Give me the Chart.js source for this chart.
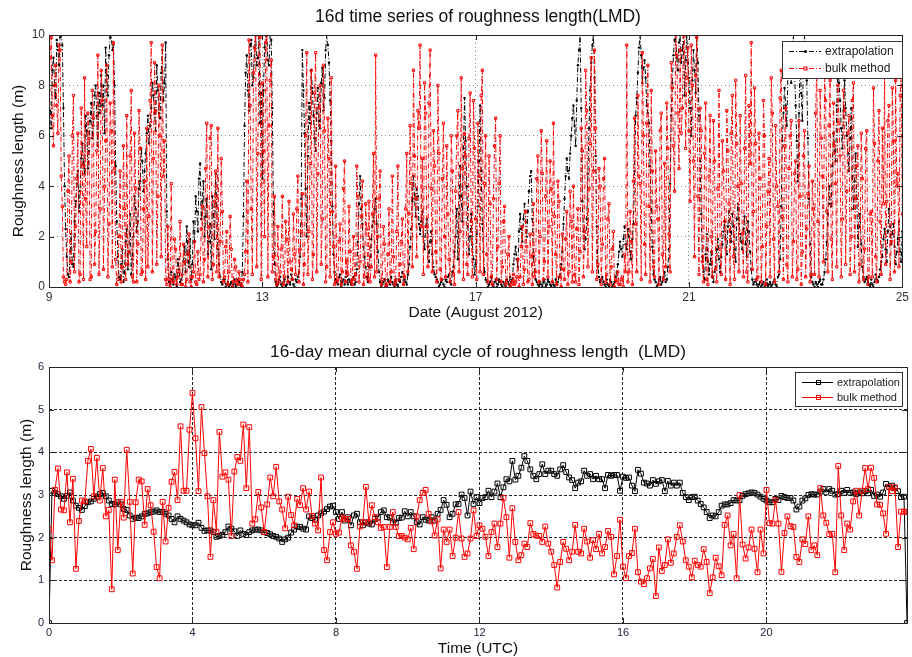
<!DOCTYPE html>
<html>
<head>
<meta charset="utf-8">
<script src="https://cdn.jsdelivr.net/npm/chart.js@4.4.0/dist/chart.umd.min.js"></script>
<style>
  body { margin: 0; background: #fff; }
  #wrap { position: relative; width: 912px; height: 657px; }
  canvas { position: absolute; left: 0; }
  #topCanvas { top: 0; }
  #bottomCanvas { top: 330px; }
</style>
</head>
<body>
<div id="wrap">
  <canvas id="topCanvas" width="912" height="330"></canvas>
  <canvas id="bottomCanvas" width="912" height="327"></canvas>
</div>
<script>
// top panel: values on the hour and at half past, 9 Aug 00 UTC to 25 Aug 00 UTC
let startDay = 9;
let dayTicks = [9, 13, 17, 21, 25];
let extrapHourly = [
  8.2, 6.3, 9.1, 7.5, 9.4, 9.9, 9.6, 4.0, 1.2, 0.4, 2.1, 0.8, 3.4, 4.6, 3.8, 5.7, 4.5, 6.2, 5.4, 7.3, 6.4, 8.0, 5.6, 6.9,
  7.2, 6.1, 8.4, 9.2, 10, 9.6, 4.8, 1.2, 0.3, 1.5, 0.6, 2.3, 1.4, 0.5, 2.0, 3.1, 2.6, 4.2, 5.0, 4.6, 6.1, 5.7, 7.1, 7.6,
  6.2, 7.8, 6.7, 9.4, 8.1, 3.0, 0.2, 0.6, 0.1, 0.4, 1.1, 0.2, 0.5, 1.6, 2.4, 0.8, 0.3, 2.6, 3.6, 2.2, 4.9, 3.4, 2.0, 3.5,
  1.8, 0.7, 2.9, 4.5, 1.5, 0.4, 0.1, 0.3, 0.1, 0.0, 0.2, 0.1, 0.0, 0.3, 0.1, 0.6, 6.4, 9.2, 7.0, 9.8, 8.3, 10, 9.1, 6.5,
  4.3, 9.5, 10, 8.8, 9.8, 3.0, 0.2, 0.1, 0.4, 0.0, 0.3, 0.1, 0.2, 0.5, 0.1, 0.3, 0.4, 1.2, 9.4, 6.1, 2.0, 7.3, 8.6, 6.8,
  5.4, 7.9, 6.3, 8.7, 7.5, 10, 8.9, 5.8, 1.3, 0.3, 0.1, 0.5, 0.2, 0.1, 0.6, 0.3, 0.1, 0.4, 0.2, 1.8, 4.4, 2.5, 1.2, 0.4,
  0.8, 1.9, 2.6, 3.5, 1.4, 0.2, 0.1, 0.3, 0.0, 0.2, 0.4, 0.1, 0.3, 0.0, 0.2, 0.6, 0.3, 0.1, 0.9, 2.3, 4.4, 2.8, 3.6, 2.1,
  3.0, 1.5, 2.7, 1.0, 2.2, 0.8, 0.4, 0.2, 0.1, 0.3, 0.0, 0.2, 0.5, 0.1, 0.8, 2.0, 1.1, 4.8, 2.6, 7.5, 4.0, 1.3, 2.9, 1.1,
  0.9, 3.2, 7.2, 2.5, 0.6, 0.2, 0.1, 0.4, 0.0, 0.3, 0.1, 0.2, 0.0, 0.1, 0.3, 0.1, 0.2, 0.9, 1.6, 0.8, 2.9, 1.8, 3.3, 2.0,
  3.8, 4.6, 1.2, 0.3, 0.1, 0.2, 0.0, 0.3, 0.1, 0.2, 0.0, 0.1, 0.3, 0.2, 0.5, 1.4, 3.5, 5.1, 4.3, 6.0, 7.2, 5.6, 8.8, 10,
  3.4, 1.5, 2.7, 6.3, 8.9, 10, 5.2, 0.8, 0.2, 0.4, 0.1, 0.3, 0.0, 0.2, 0.1, 0.4, 0.9, 1.8, 1.2, 2.4, 1.5, 2.0, 1.1, 2.5,
  6.8, 8.5, 10, 8.1, 9.0, 7.2, 6.5, 3.1, 0.5, 0.2, 0.1, 0.4, 0.2, 0.6, 0.3, 1.5, 6.8, 9.2, 10, 8.6, 10, 9.4, 7.6, 10,
  8.3, 6.0, 9.4, 7.7, 8.9, 5.0, 1.2, 0.3, 2.1, 0.5, 1.4, 0.2, 0.8, 1.9, 0.6, 1.7, 2.6, 1.3, 3.0, 1.8, 2.4, 1.0, 3.3, 2.1,
  1.5, 2.8, 1.2, 2.2, 0.7, 0.1, 0.3, 0.0, 0.2, 0.1, 0.0, 0.3, 0.1, 0.0, 0.2, 0.1, 0.4, 1.1, 5.8, 7.9, 6.4, 9.3, 8.1, 10,
  7.2, 4.2, 9.0, 6.6, 10, 8.2, 3.5, 0.4, 0.1, 0.2, 0.0, 0.3, 0.1, 0.6, 1.8, 4.0, 3.2, 6.1, 5.0, 9.0, 7.4, 5.5, 8.2, 6.0,
  4.6, 7.1, 3.1, 5.3, 1.6, 2.9, 0.8, 0.2, 0.4, 0.1, 0.3, 0.0, 0.5, 0.2, 0.7, 1.2, 2.3, 1.0, 3.1, 1.7, 2.5, 0.9, 1.9, 1.4,
  2.2
];
let extrapHalfPast = [
  7.0, 8.6, 8.0, 9.8, 8.8, 10, 7.1, 2.3, 0.5, 1.4, 0.9, 2.6, 4.1, 3.0, 5.1, 4.9, 6.8, 4.7, 6.6, 5.9, 7.6, 6.8, 7.7, 8.4,
  8.0, 9.5, 7.6, 9.9, 9.4, 8.0, 2.6, 0.4, 0.9, 0.2, 1.8, 0.7, 2.9, 1.1, 3.6, 2.2, 3.9, 5.5, 3.8, 5.3, 6.8, 6.4, 8.1, 6.9,
  8.8, 6.9, 8.5, 7.4, 9.7, 1.1, 0.1, 0.3, 0.5, 0.0, 0.7, 0.3, 1.0, 0.6, 1.3, 1.9, 0.9, 1.8, 3.0, 4.3, 2.7, 4.2, 2.8, 1.3,
  2.5, 3.6, 1.9, 3.2, 0.9, 0.2, 0.3, 0.0, 0.2, 0.1, 0.0, 0.3, 0.1, 0.2, 0.0, 2.8, 8.5, 7.8, 9.6, 8.0, 9.5, 8.8, 10, 7.7,
  7.8, 10, 9.0, 10, 7.1, 0.9, 0.0, 0.3, 0.1, 0.2, 0.0, 0.4, 0.1, 0.3, 0.0, 0.2, 0.6, 3.5, 7.8, 3.9, 5.2, 6.5, 7.9, 5.9,
  6.9, 6.6, 8.1, 7.0, 9.4, 9.6, 7.4, 3.2, 0.6, 0.2, 0.4, 0.0, 0.3, 0.4, 0.1, 0.2, 0.3, 0.1, 0.7, 3.3, 3.1, 1.6, 0.8, 0.2,
  1.2, 2.4, 3.1, 2.5, 0.6, 0.0, 0.2, 0.1, 0.3, 0.1, 0.2, 0.0, 0.1, 0.3, 0.4, 0.1, 0.2, 0.5, 1.6, 3.4, 3.5, 3.9, 2.5, 2.6,
  2.0, 2.4, 1.6, 1.8, 1.3, 0.5, 0.3, 0.0, 0.2, 0.1, 0.3, 0.4, 0.2, 0.6, 1.4, 3.1, 2.9, 3.6, 5.5, 5.8, 2.4, 2.0, 1.7, 0.5,
  2.1, 5.0, 4.6, 1.4, 0.3, 0.0, 0.2, 0.1, 0.2, 0.0, 0.3, 0.1, 0.2, 0.0, 0.2, 0.4, 0.3, 1.3, 1.1, 2.2, 2.3, 2.7, 2.6, 3.0,
  4.4, 2.7, 0.6, 0.2, 0.0, 0.1, 0.2, 0.0, 0.3, 0.1, 0.2, 0.0, 0.1, 0.4, 0.9, 2.5, 4.4, 4.6, 5.3, 6.7, 6.4, 7.4, 9.4, 7.1,
  2.2, 1.9, 4.5, 7.8, 9.6, 8.3, 2.4, 0.4, 0.3, 0.2, 0.0, 0.1, 0.3, 0.0, 0.2, 0.6, 1.4, 1.5, 1.9, 1.7, 2.3, 1.4, 1.9, 4.6,
  7.5, 9.5, 9.2, 8.7, 8.3, 6.9, 4.8, 1.6, 0.3, 0.0, 0.3, 0.1, 0.4, 0.2, 0.8, 4.1, 8.1, 9.8, 9.1, 9.7, 8.9, 10, 9.0, 8.9,
  7.1, 8.2, 8.6, 9.9, 6.8, 2.9, 0.6, 1.3, 1.0, 0.9, 0.4, 0.6, 1.5, 1.1, 1.2, 2.2, 1.9, 2.4, 2.2, 2.9, 1.5, 2.7, 2.5, 1.8,
  2.3, 1.7, 2.6, 1.4, 0.3, 0.2, 0.1, 0.1, 0.0, 0.2, 0.1, 0.0, 0.2, 0.1, 0.3, 0.0, 0.5, 3.2, 6.9, 7.2, 8.4, 8.8, 9.6, 8.6,
  5.8, 6.9, 7.7, 8.9, 9.3, 5.9, 1.7, 0.2, 0.0, 0.1, 0.2, 0.1, 0.3, 1.1, 2.9, 3.3, 4.8, 5.4, 7.2, 8.1, 6.3, 7.0, 7.1, 5.3,
  5.9, 4.4, 4.2, 3.5, 2.4, 1.7, 0.4, 0.3, 0.2, 0.0, 0.1, 0.2, 0.3, 0.4, 1.0, 1.9, 1.5, 2.2, 2.4, 2.1, 1.6, 1.4, 2.6, 1.0
];
let bulkHourly = [
  7.8, 9.9, 5.6, 8.8, 6.1, 9.4, 3.2, 0.2, 0.3, 5.2, 1.0, 7.6, 2.4, 6.1, 0.5, 4.8, 8.3, 1.6, 5.9, 0.4, 6.7, 2.2, 9.2, 3.1,
  7.4, 4.0, 8.8, 2.5, 6.2, 9.7, 1.1, 0.3, 4.6, 0.8, 3.1, 6.8, 1.4, 7.8, 0.2, 3.9, 1.7, 5.5, 0.6, 4.2, 6.3, 2.8, 9.7, 5.1,
  7.0, 3.6, 6.0, 9.6, 5.8, 0.1, 0.3, 4.1, 0.2, 1.5, 0.4, 2.6, 0.1, 1.0, 0.3, 2.1, 0.0, 0.6, 0.2, 1.4, 0.5, 3.2, 1.1, 6.5,
  2.4, 6.4, 0.9, 4.6, 6.3, 1.8, 3.0, 0.4, 2.2, 0.6, 1.5, 0.2, 0.8, 0.1, 0.3, 0.0, 0.5, 4.2, 9.8, 3.1, 8.5, 10, 5.3, 9.9,
  8.1, 2.0, 10, 6.4, 9.0, 1.2, 0.3, 2.4, 0.6, 3.6, 0.4, 1.9, 3.4, 0.7, 2.9, 0.5, 4.4, 1.5, 3.7, 0.9, 9.3, 2.2, 8.6, 1.3,
  9.3, 4.5, 8.0, 2.7, 6.2, 0.8, 5.1, 8.3, 1.6, 4.8, 0.3, 2.5, 0.6, 5.0, 1.1, 3.2, 0.2, 2.0, 0.5, 3.6, 1.0, 4.2, 0.4, 2.3,
  3.4, 0.8, 5.3, 9.2, 2.0, 4.6, 0.3, 1.7, 0.1, 3.1, 0.6, 1.2, 0.2, 4.8, 0.9, 2.7, 0.4, 5.3, 2.9, 4.1, 8.6, 3.5, 7.0, 9.6,
  5.1, 8.1, 2.4, 7.3, 3.9, 6.2, 1.4, 8.0, 0.7, 4.3, 2.0, 5.6, 1.1, 6.0, 0.5, 3.8, 7.0, 2.2, 4.7, 6.1, 0.9, 5.9, 2.6, 7.4,
  2.7, 6.5, 0.6, 8.6, 4.1, 1.3, 5.2, 0.4, 3.5, 6.7, 1.6, 6.0, 0.8, 3.2, 0.2, 2.0, 0.1, 0.5, 0.2, 1.1, 0.4, 2.4, 0.7, 1.6,
  0.3, 1.2, 3.3, 0.6, 5.2, 2.0, 4.5, 1.0, 5.8, 2.4, 3.9, 6.5, 1.3, 4.2, 0.4, 2.1, 0.3, 3.0, 0.6, 2.6, 4.0, 0.2, 3.1, 1.4,
  5.4, 2.2, 7.0, 3.9, 9.1, 4.6, 6.3, 0.9, 4.0, 1.7, 5.1, 0.5, 3.3, 0.8, 2.2, 0.3, 0.6, 0.1, 0.4, 1.3, 9.6, 0.6, 1.8, 4.2,
  2.5, 7.6, 4.1, 9.3, 1.7, 6.5, 3.2, 7.8, 0.8, 5.4, 2.7, 6.2, 1.3, 4.9, 7.3, 2.1, 8.9, 5.6, 10, 6.9, 9.4, 7.1, 10, 8.3,
  6.2, 9.6, 5.0, 8.4, 3.6, 7.1, 1.0, 5.3, 0.3, 4.4, 2.0, 6.6, 0.7, 3.9, 1.5, 5.8, 2.6, 7.0, 3.3, 6.1, 1.2, 8.2, 4.0, 6.8,
  2.1, 5.5, 0.6, 7.2, 9.7, 3.0, 5.7, 0.4, 4.3, 1.6, 6.0, 2.4, 5.1, 8.3, 1.9, 6.4, 3.2, 7.5, 2.8, 5.6, 0.9, 4.7, 6.6, 1.8,
  5.0, 0.7, 3.6, 1.4, 6.2, 2.3, 4.8, 0.5, 3.1, 6.9, 2.6, 7.8, 4.4, 8.5, 3.0, 6.4, 1.9, 7.3, 4.1, 8.0, 5.2, 2.7, 7.0, 3.8,
  6.8, 2.0, 8.1, 3.5, 5.6, 0.9, 4.3, 1.5, 6.2, 0.4, 3.0, 7.9, 1.2, 5.0, 2.6, 6.3, 8.4, 3.4, 7.2, 1.8, 5.8, 8.2, 4.5, 7.6,
  2.9
];
let bulkHalfPast = [
  9.1, 6.8, 8.0, 7.2, 9.6, 4.4, 0.4, 0.1, 3.8, 0.2, 6.0, 0.6, 4.3, 0.2, 7.1, 0.3, 3.5, 6.9, 0.3, 7.8, 0.9, 5.4, 0.5, 8.6,
  0.7, 5.8, 0.4, 7.3, 0.8, 4.7, 0.1, 2.0, 0.2, 5.6, 0.3, 0.9, 5.2, 0.4, 6.1, 0.2, 7.0, 0.5, 3.1, 0.3, 0.8, 7.4, 0.6, 8.9,
  0.9, 8.0, 1.2, 4.4, 0.3, 2.4, 0.0, 0.2, 1.9, 0.1, 0.6, 0.1, 1.7, 0.0, 1.3, 0.2, 0.4, 1.8, 0.1, 0.3, 2.3, 0.2, 4.7, 0.4,
  5.9, 0.3, 3.4, 0.6, 0.4, 5.1, 0.2, 1.6, 0.1, 2.8, 0.0, 1.1, 0.2, 0.6, 0.1, 0.3, 1.4, 0.2, 7.2, 0.5, 9.5, 0.8, 10, 0.3,
  5.4, 9.7, 0.4, 8.2, 0.6, 3.6, 0.1, 0.2, 1.5, 0.1, 2.6, 0.2, 1.0, 0.3, 1.3, 3.1, 0.2, 2.2, 0.1, 6.0, 0.5, 4.9, 0.3, 7.7,
  0.6, 7.1, 0.9, 8.8, 0.2, 6.7, 0.4, 3.0, 0.1, 0.2, 1.8, 0.1, 3.9, 0.2, 0.5, 1.4, 0.1, 0.3, 4.8, 0.2, 2.8, 0.1, 3.3, 0.3,
  0.2, 2.9, 0.4, 0.6, 3.5, 0.1, 2.4, 0.0, 1.3, 0.2, 4.4, 0.1, 2.2, 0.3, 1.8, 0.1, 3.1, 0.6, 6.4, 0.8, 5.2, 1.2, 6.3, 2.4,
  0.5, 6.9, 0.8, 9.4, 0.6, 4.8, 0.2, 5.3, 0.3, 6.5, 0.4, 2.9, 0.2, 4.6, 0.1, 6.0, 0.6, 8.3, 0.3, 5.2, 0.5, 7.7, 0.4, 5.5,
  0.3, 4.4, 7.6, 0.5, 6.0, 0.2, 3.3, 0.1, 5.6, 0.3, 4.1, 0.2, 2.6, 0.1, 1.3, 0.0, 0.2, 0.1, 0.4, 0.0, 1.6, 0.1, 3.0, 0.2,
  2.1, 0.1, 0.4, 4.3, 0.2, 6.2, 0.3, 3.6, 0.4, 5.0, 0.2, 2.8, 0.1, 3.4, 0.0, 0.7, 1.9, 0.1, 3.8, 0.2, 0.5, 2.3, 0.1, 6.3,
  0.4, 8.6, 0.8, 5.7, 0.6, 9.4, 0.3, 4.7, 0.1, 4.3, 0.2, 2.7, 0.1, 1.5, 0.0, 0.2, 0.1, 0.3, 0.0, 0.6, 0.2, 3.0, 0.1, 6.7,
  0.6, 4.4, 0.3, 6.0, 0.5, 8.8, 0.2, 4.6, 0.4, 3.2, 0.1, 6.9, 0.3, 0.8, 5.5, 0.6, 7.9, 3.8, 9.2, 4.7, 6.1, 10, 5.5, 9.5,
  3.4, 8.0, 1.2, 9.9, 0.5, 6.2, 0.2, 7.3, 0.1, 6.8, 0.4, 5.0, 0.2, 7.8, 0.5, 4.6, 0.3, 5.4, 0.1, 7.6, 0.3, 5.7, 0.6, 4.1,
  0.4, 8.4, 0.2, 4.9, 0.7, 7.9, 0.3, 6.1, 0.2, 7.4, 0.1, 3.8, 0.4, 6.9, 0.2, 4.0, 0.6, 8.6, 0.3, 7.1, 0.2, 6.0, 0.4, 4.5,
  0.3, 6.6, 0.1, 5.2, 0.4, 3.7, 0.2, 4.2, 0.5, 8.9, 0.4, 5.9, 1.0, 7.4, 0.6, 8.2, 0.3, 5.6, 0.8, 6.5, 0.4, 7.8, 0.9, 6.1,
  0.5, 7.4, 0.6, 4.8, 0.2, 6.1, 0.3, 5.5, 0.1, 2.9, 0.4, 5.7, 0.2, 7.0, 0.5, 3.3, 0.9, 6.6, 0.3, 7.9, 0.6, 4.0, 0.8, 8.5
];

// bottom panel: 16-day mean diurnal cycle, 5-minute steps from 00:00 UTC
let hourTicks = [0, 4, 8, 12, 16, 20];
let extrapMean = [
  0,
  3.10, 3.05, 3.02, 2.97, 2.91, 2.98, 3.06, 2.87, 2.75, 2.70,
  2.65, 2.74, 2.83, 2.85, 2.91, 2.96, 3.02, 3.05, 2.97, 2.87,
  2.79, 2.78, 2.83, 2.78, 2.67, 2.65, 2.52, 2.44, 2.47, 2.46,
  2.50, 2.56, 2.57, 2.60, 2.61, 2.64, 2.60, 2.60, 2.56, 2.52,
  2.44, 2.36, 2.50, 2.44, 2.40, 2.36, 2.31, 2.29, 2.29, 2.35,
  2.23, 2.16, 2.17, 2.17, 2.13, 2.02, 2.04, 2.07, 2.13, 2.26,
  2.21, 2.15, 2.04, 2.17, 2.09, 2.06, 2.13, 2.17, 2.19, 2.19,
  2.17, 2.13, 2.11, 2.08, 2.04, 2.02, 1.98, 1.90, 1.96, 2.00,
  2.12, 2.19, 2.26, 2.25, 2.21, 2.19, 2.50, 2.46, 2.42, 2.52,
  2.57, 2.61, 2.67, 2.73, 2.75, 2.60, 2.44, 2.60, 2.40, 2.48,
  2.29, 2.52, 2.56, 2.36, 2.29, 2.36, 2.33, 2.31, 2.44, 2.47,
  2.60, 2.64, 2.48, 2.47, 2.36, 2.35, 2.46, 2.47, 2.62, 2.50,
  2.60, 2.50, 2.36, 2.31, 2.48, 2.42, 2.40, 2.48, 2.40, 2.56,
  2.65, 2.88, 2.77, 2.48, 2.56, 2.78, 2.79, 3.01,
  2.93, 2.52, 3.08, 2.79, 2.95, 2.81, 2.93, 2.95, 3.10, 2.95,
  3.08, 3.27, 2.95, 3.18, 3.37, 3.32, 3.80, 3.36, 3.45, 3.64,
  3.91, 3.80, 3.60, 3.45, 3.37, 3.49, 3.72, 3.49, 3.57, 3.57,
  3.49, 3.45, 3.60, 3.70, 3.54, 3.41, 3.35, 3.16, 3.29, 3.32,
  3.57, 3.45, 3.49, 3.37, 3.45, 3.37, 3.37, 3.16, 3.47, 3.45,
  3.47, 3.47, 3.10, 3.43, 3.40,
  3.41, 3.22, 3.09, 3.59, 3.50, 3.29, 3.27, 3.22, 3.35, 3.26,
  3.32, 3.35, 3.09, 3.33, 3.22, 3.29, 3.22, 3.29, 3.05, 2.95,
  2.88, 2.95, 2.96, 2.87, 2.79, 2.71, 2.60, 2.46, 2.52, 2.50,
  2.60, 2.75, 2.78, 2.78, 2.81, 2.88, 2.87, 2.88, 2.98, 3.02,
  3.04, 3.06, 3.05, 3.01, 2.96, 2.91, 2.87, 2.83, 2.83, 2.91,
  2.88, 2.98, 2.95, 2.93, 2.93, 2.87, 2.66, 2.73, 2.87, 2.92,
  3.00, 3.02, 3.01, 3.01, 3.08, 3.14, 3.06, 3.14, 3.10, 3.01,
  3.02, 3.10, 3.05, 3.12, 3.05, 3.06, 3.02, 3.06, 3.04,
  3.09, 3.04, 3.12, 2.98, 3.01, 2.96, 3.06, 3.26, 3.19, 3.22,
  3.16, 3.09, 2.95, 2.96,
  0
];
let bulkMean = [
  2.19, 1.47, 3.12, 3.62, 2.66, 2.64, 3.53, 2.36, 3.38, 1.27,
  2.39, 2.87, 2.85, 3.80, 4.08, 2.97, 3.87, 2.87, 3.63, 2.50,
  2.65, 0.79, 3.36, 1.71, 2.84, 2.47, 4.06, 2.84, 1.16, 2.83,
  3.36, 3.32, 2.30, 3.14, 2.76, 2.14, 1.31, 1.05, 2.84, 1.91,
  2.70, 3.31, 3.54, 2.88, 4.61, 3.10, 3.10, 4.53, 5.39, 4.33,
  3.09, 5.06, 3.98, 2.97, 1.55, 2.88, 2.14, 4.48, 3.43, 3.53,
  3.36, 2.04, 3.55, 3.89, 3.80, 4.65, 3.16, 4.59, 2.33, 2.43,
  3.07, 2.71, 2.13, 2.78, 3.41, 2.97, 3.66, 2.85, 2.66, 2.22,
  2.96, 2.53, 2.29, 2.91, 2.76, 3.16, 2.66, 3.08, 2.51, 2.33,
  2.17, 3.41, 1.71, 1.47, 2.13, 2.36, 2.09, 2.12, 2.47, 2.44,
  2.44, 1.82, 1.67, 1.27, 2.26, 2.36, 3.19, 2.36, 2.76, 2.48,
  2.36, 2.23, 2.25, 1.31, 2.25, 2.60, 2.25, 2.04, 2.04, 2.00,
  1.96, 2.23, 1.73, 2.50, 2.88, 3.05, 3.12, 2.56, 2.38, 2.05,
  2.43, 1.28, 2.19, 1.90, 2.19, 1.57, 2.00, 2.60,
  1.98, 1.55, 1.63, 1.98, 2.64, 2.04, 2.29, 2.21, 2.02, 1.57,
  2.13, 2.33, 1.78, 2.33, 2.93, 2.48, 1.53, 2.69, 1.90, 1.47,
  1.59, 1.86, 1.78, 2.34, 2.09, 2.05, 2.04, 1.90, 2.26, 1.86,
  1.67, 1.36, 0.83, 1.43, 1.90, 1.74, 1.47, 1.67, 2.30, 1.67,
  1.63, 2.21, 1.91, 1.53, 1.94, 1.73, 2.09, 1.63, 1.78, 2.16,
  2.02, 1.14, 1.57, 2.42, 1.32,
  1.05, 1.57, 1.64, 2.21, 1.19, 0.97, 0.91, 1.05, 1.28, 1.50,
  0.63, 1.77, 1.22, 1.36, 1.96, 1.41, 1.63, 2.02, 2.29, 1.91,
  1.47, 1.32, 1.07, 1.46, 1.36, 1.32, 1.73, 1.43, 0.70, 1.07,
  1.53, 1.33, 1.12, 2.30, 2.52, 1.82, 2.09, 1.05, 3.00, 1.84,
  1.51, 1.77, 2.19, 1.74, 1.19, 2.19, 1.63, 3.12, 2.34, 2.33,
  2.88, 2.33, 1.20, 2.11, 2.50, 2.27, 2.25, 1.55, 1.43, 1.96,
  1.85, 2.50, 1.71, 1.82, 1.59, 3.16, 2.52, 2.35, 2.08, 2.09,
  1.19, 3.68, 2.52, 1.71, 2.33, 2.19, 2.85, 3.10, 2.52, 3.10,
  3.63, 3.14, 3.64, 3.40, 2.78, 2.77, 2.57, 2.09, 3.19, 3.09,
  3.18, 1.78, 2.61, 2.61, 2.60
];

let fontFamily = '"Liberation Sans", Arial, Helvetica, sans-serif';

// hourly + half-past samples merged into one time-ordered list of points
function halfHourPoints(onHour, halfPast) {
  let pts = [];
  for (let i = 0; i < onHour.length; i++) {
    pts.push({ x: startDay + i / 24, y: onHour[i] });
    if (i < halfPast.length) pts.push({ x: startDay + (i + 0.5) / 24, y: halfPast[i] });
  }
  return pts;
}

function stepPoints(values, step) {
  return values.map(function (v, i) { return { x: i * step, y: v }; });
}

// frame, inward ticks, legend box and titles drawn over the plot, matlab style
const matlabFrame = {
  id: 'matlabFrame',
  afterDraw(chart, args, opts) {
    let ctx = chart.ctx;
    let a = chart.chartArea;
    let xs = chart.scales.x, ys = chart.scales.y;
    ctx.save();
    ctx.strokeStyle = '#262626';
    ctx.lineWidth = 1;
    ctx.setLineDash([]);
    ctx.beginPath();
    xs.ticks.forEach(function (t) {
      let px = Math.round(xs.getPixelForValue(t.value)) + 0.5;
      ctx.moveTo(px, a.bottom); ctx.lineTo(px, a.bottom - 5);
      ctx.moveTo(px, a.top); ctx.lineTo(px, a.top + 5);
    });
    ys.ticks.forEach(function (t) {
      let py = Math.round(ys.getPixelForValue(t.value)) + 0.5;
      ctx.moveTo(a.left, py); ctx.lineTo(a.left + 5, py);
      ctx.moveTo(a.right, py); ctx.lineTo(a.right - 5, py);
    });
    ctx.stroke();
    ctx.strokeRect(Math.round(a.left) + 0.5, Math.round(a.top) + 0.5,
      Math.round(a.right - a.left), Math.round(a.bottom - a.top));

    // legend
    let lg = opts.legend;
    ctx.fillStyle = '#fff';
    ctx.fillRect(lg.x, lg.y, lg.w, lg.h);
    ctx.strokeStyle = '#333';
    ctx.strokeRect(lg.x + 0.5, lg.y + 0.5, lg.w, lg.h);
    ctx.font = lg.fontSize + 'px ' + fontFamily;
    ctx.textBaseline = 'middle';
    ctx.textAlign = 'left';
    chart.data.datasets.forEach(function (ds, i) {
      let col = ds.borderColor;
      let yy = lg.y + lg.rowTop + i * lg.rowGap + 0.5;
      ctx.strokeStyle = col;
      ctx.lineWidth = 1;
      ctx.setLineDash(ds.borderDash || []);
      ctx.beginPath();
      ctx.moveTo(lg.x + lg.lineStart, yy);
      ctx.lineTo(lg.x + lg.lineEnd, yy);
      ctx.stroke();
      ctx.setLineDash([]);
      let mx = Math.round(lg.x + (lg.lineStart + lg.lineEnd) / 2) + 0.5;
      let s = lg.marker;
      if (ds.pointStyle === 'rect') {
        ctx.strokeStyle = col;
        ctx.strokeRect(mx - s / 2, yy - s / 2, s, s);
      } else {
        ctx.fillStyle = col;
        ctx.beginPath(); ctx.arc(mx, yy, s / 2, 0, Math.PI * 2); ctx.fill();
      }
      ctx.fillStyle = '#222';
      ctx.fillText(ds.label, lg.x + lg.textX, yy);
    });

    // titles
    ctx.fillStyle = '#111';
    ctx.textAlign = 'center';
    ctx.font = opts.titleSize + 'px ' + fontFamily;
    ctx.fillText(opts.title, opts.titleX, opts.titleY);
    ctx.font = opts.labelSize + 'px ' + fontFamily;
    ctx.fillText(opts.xLabel, (a.left + a.right) / 2, opts.xLabelY);
    ctx.save();
    ctx.translate(opts.yLabelX, (a.top + a.bottom) / 2);
    ctx.rotate(-Math.PI / 2);
    ctx.fillText(opts.yLabel, 0, 0);
    ctx.restore();
    ctx.restore();
  }
};

function fixedWidth(w) { return function (scale) { scale.width = w; }; }
function fixedHeight(h) { return function (scale) { scale.height = h; }; }

// ---------- top chart ----------
let topChart = new Chart(document.getElementById('topCanvas').getContext('2d'), {
  type: 'line',
  data: {
    datasets: [{
      label: 'extrapolation',
      data: halfHourPoints(extrapHourly, extrapHalfPast),
      borderColor: '#000000',
      backgroundColor: '#000000',
      borderWidth: 1,
      borderDash: [5, 2, 1, 2],
      pointStyle: 'circle',
      pointRadius: 1.2,
      pointBorderWidth: 0,
      order: 1
    }, {
      label: 'bulk method',
      data: halfHourPoints(bulkHourly, bulkHalfPast),
      borderColor: '#ff0000',
      backgroundColor: 'rgba(255,255,255,0)',
      borderWidth: 1,
      borderDash: [5, 2, 1, 2],
      pointStyle: 'rect',
      pointRadius: 1.6,
      pointBorderWidth: 1,
      order: 0
    }]
  },
  options: {
    responsive: false,
    animation: false,
    layout: { padding: { top: 35, right: 5, left: 0, bottom: 0 } },
    plugins: {
      legend: { display: false },
      tooltip: { enabled: false },
      matlabFrame: {
        title: '16d time series of roughness length(LMD)',
        titleX: 478, titleY: 17, titleSize: 17.5,
        xLabel: 'Date (August 2012)', xLabelY: 313,
        yLabel: 'Roughness length (m)', yLabelX: 19, labelSize: 15.5,
        legend: { x: 782, y: 41, w: 120, h: 37, rowTop: 10, rowGap: 17,
                  lineStart: 7, lineEnd: 39, textX: 43, fontSize: 12, marker: 3 }
      }
    },
    scales: {
      x: {
        type: 'linear', min: 9, max: 25,
        afterFit: fixedHeight(43),
        afterBuildTicks: function (s) { s.ticks = dayTicks.map(function (v) { return { value: v }; }); },
        ticks: { color: '#333', padding: 3, font: { family: fontFamily, size: 12 } },
        grid: { color: '#8c8c8c', drawTicks: false, lineWidth: 1 },
        border: { display: false, dash: [1, 3] }
      },
      y: {
        min: 0, max: 10,
        afterFit: fixedWidth(49),
        ticks: { stepSize: 2, color: '#333', padding: 4, font: { family: fontFamily, size: 12 } },
        grid: { color: '#8c8c8c', drawTicks: false, lineWidth: 1 },
        border: { display: false, dash: [1, 3] }
      }
    }
  },
  plugins: [matlabFrame]
});

// ---------- bottom chart ----------
let bottomChart = new Chart(document.getElementById('bottomCanvas').getContext('2d'), {
  type: 'line',
  data: {
    datasets: [{
      label: 'extrapolation',
      data: stepPoints(extrapMean, 1 / 12),
      borderColor: '#000000',
      backgroundColor: 'rgba(255,255,255,0)',
      borderWidth: 1,
      pointStyle: 'rect',
      pointRadius: 3.4,
      pointBorderWidth: 1,
      order: 1
    }, {
      label: 'bulk method',
      data: stepPoints(bulkMean, 1 / 12),
      borderColor: '#ff0000',
      backgroundColor: 'rgba(255,255,255,0)',
      borderWidth: 1,
      pointStyle: 'rect',
      pointRadius: 3.4,
      pointBorderWidth: 1,
      order: 0
    }]
  },
  options: {
    responsive: false,
    animation: false,
    layout: { padding: { top: 37, right: 5, left: 0, bottom: 0 } },
    plugins: {
      legend: { display: false },
      tooltip: { enabled: false },
      matlabFrame: {
        title: '16-day mean diurnal cycle of roughness length  (LMD)',
        titleX: 478, titleY: 22, titleSize: 17.3,
        xLabel: 'Time (UTC)', xLabelY: 319,
        yLabel: 'Roughness length (m)', yLabelX: 27, labelSize: 15.5,
        legend: { x: 795, y: 42, w: 107, h: 34, rowTop: 10, rowGap: 15,
                  lineStart: 7, lineEnd: 38, textX: 42, fontSize: 11, marker: 4 }
      }
    },
    scales: {
      x: {
        type: 'linear', min: 0, max: 287 / 12,
        afterFit: fixedHeight(34),
        afterBuildTicks: function (s) { s.ticks = hourTicks.map(function (v) { return { value: v }; }); },
        ticks: { color: '#1c1c3a', padding: 3, font: { family: fontFamily, size: 11 } },
        grid: { color: '#222', drawTicks: false, lineWidth: 1 },
        border: { display: false, dash: [3, 2] }
      },
      y: {
        min: 0, max: 6,
        afterFit: fixedWidth(49),
        ticks: { stepSize: 1, color: '#1c1c3a', padding: 5, font: { family: fontFamily, size: 11 } },
        grid: { color: '#222', drawTicks: false, lineWidth: 1 },
        border: { display: false, dash: [3, 2] }
      }
    }
  },
  plugins: [matlabFrame]
});
</script>
</body>
</html>
